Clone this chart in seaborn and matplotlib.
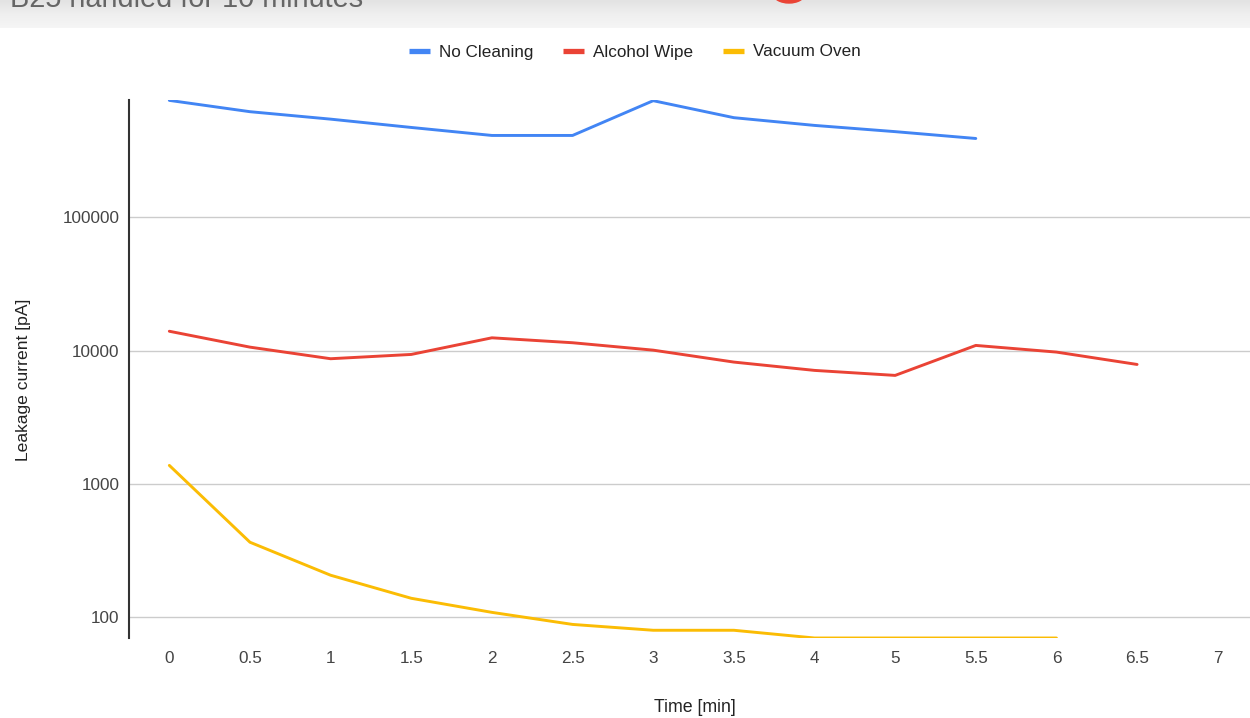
import numpy as np
import pandas as pd
import matplotlib
matplotlib.use("Agg")
import matplotlib.pyplot as plt
import seaborn as sns
from matplotlib.patches import Circle

# ---- data ----
time_labels = ["0", "0.5", "1", "1.5", "2", "2.5", "3", "3.5", "4", "5", "5.5", "6", "6.5", "7"]
series_names = ["No Cleaning", "Alcohol Wipe", "Vacuum Oven"]
no_cleaning = [755000, 621000, 546000, 473000, 412000, 412000, 751000, 560000, 490000, 440000, 391000]
alcohol_wipe = [14000, 10640, 8710, 9380, 12500, 11480, 10100, 8220, 7120, 6530, 10960, 9770, 7890]
vacuum_oven = [1380, 366, 207, 139, 109, 88.5, 80, 80, 70, 70, 70, 70]
y_ticks = [100, 1000, 10000, 100000]
y_tick_labels = ["100", "1000", "10000", "100000"]
colors = ["#4285F4", "#EA4335", "#FBBC04"]

rows = []
for name, vals in zip(series_names, [no_cleaning, alcohol_wipe, vacuum_oven]):
    for i, v in enumerate(vals):
        rows.append({"pos": i, "Time": time_labels[i], "value": v, "series": name})
df = pd.DataFrame(rows)

sns.set_theme(style="white")
plt.rcParams["font.family"] = ["Liberation Sans", "DejaVu Sans"]

W, H = 1250, 718
fig = plt.figure(figsize=(W / 100, H / 100), dpi=100)
fig.patch.set_facecolor("white")

left, right, top, bottom = 129, 1250, 100, 638
ax = fig.add_axes([left / W, 1 - bottom / H, (right - left) / W, (bottom - top) / H])

sns.lineplot(data=df, x="pos", y="value", hue="series", hue_order=series_names,
             palette=colors, linewidth=2.1, ax=ax, legend=False, estimator=None,
             sort=False)

ax.set_yscale("log")
ax.set_ylim(70, 760000)
ax.set_xlim(-0.5, 13.4)
ax.yaxis.set_major_locator(matplotlib.ticker.FixedLocator(y_ticks))
ax.yaxis.set_minor_locator(matplotlib.ticker.NullLocator())
ax.set_yticklabels(y_tick_labels)
ax.set_xticks(range(len(time_labels)))
ax.set_xticklabels(time_labels)
ax.tick_params(axis="both", length=0, labelsize=12.3, labelcolor="#444444")
ax.tick_params(axis="y", pad=7)
ax.tick_params(axis="x", pad=9.5)
ax.grid(axis="y", color="#cccccc", linewidth=1.0)
ax.grid(axis="x", visible=False)
for s in ["top", "right", "bottom"]:
    ax.spines[s].set_visible(False)
ax.spines["left"].set_color("#333333")
ax.spines["left"].set_linewidth(1.5)
ax.set_xlabel("Time [min]", fontsize=12.8, color="#222222", va="center")
ax.set_ylabel("Leakage current [pA]", fontsize=12.6, color="#222222", va="center")
ax.xaxis.set_label_coords((695 - left) / (right - left), (bottom - 707) / (bottom - top))
ax.yaxis.set_label_coords((24 - left) / (right - left), (bottom - 380) / (bottom - top))

# legend
handles = [plt.Line2D([0], [0], color=c, linewidth=3.8, solid_capstyle="butt") for c in colors]
fig.legend(handles, series_names, loc="center", bbox_to_anchor=(635 / W, 1 - 52 / H),
           ncol=3, frameon=False, fontsize=12.3, handlelength=1.2, handletextpad=0.55,
           columnspacing=1.75, labelcolor="#222222")

# header band (screenshot chrome)
hax = fig.add_axes([0, 1 - 28 / H, 1, 28 / H])
grad = np.linspace(0, 1, 28).reshape(-1, 1)
hax.imshow(grad, aspect="auto", cmap=matplotlib.colors.LinearSegmentedColormap.from_list(
    "g", ["#e3e3e3", "#efefef", "#f5f5f5"]), extent=[0, 1, 0, 1], origin="upper")
hax.set_xlim(0, 1)
hax.set_ylim(0, 1)
hax.axis("off")
fig.text(10 / W, 1 - 7 / H, "B25 handled for 10 minutes", fontsize=20.8, color="#666666",
         va="baseline", ha="left")
fig.patches.append(Circle((789 / W, 1 + 6 / H), 9 / H, transform=fig.transFigure,
                          color="#EA4335", zorder=5))

fig.savefig("out.png", dpi=100)
